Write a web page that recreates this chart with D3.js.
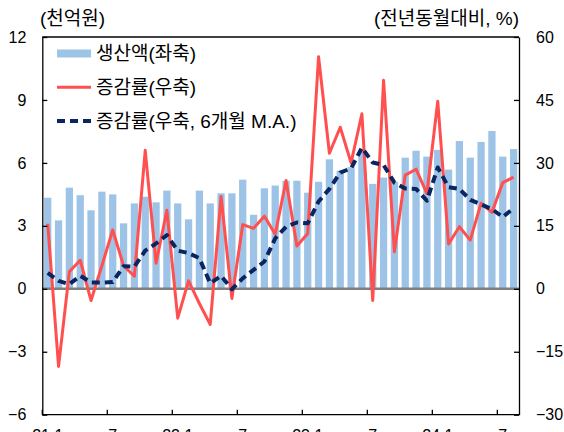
<!DOCTYPE html>
<html>
<head>
  <meta charset="utf-8" />
  <title>생산액 및 증감률</title>
  <script src="https://d3js.org/d3.v7.min.js"></script>
  <style>
    body { margin: 0; background: #fff; }
    svg text { font-family: "Liberation Sans", Arial, "Noto Sans CJK KR", sans-serif; fill: #000; }
  </style>
</head>
<body>
<div id="chart"></div>
<script>
  // monthly categories, 2021.1 ~ 2024.8
  const months = [
    "21.1","21.2","21.3","21.4","21.5","21.6","21.7","21.8","21.9","21.10","21.11","21.12",
    "22.1","22.2","22.3","22.4","22.5","22.6","22.7","22.8","22.9","22.10","22.11","22.12",
    "23.1","23.2","23.3","23.4","23.5","23.6","23.7","23.8","23.9","23.10","23.11","23.12",
    "24.1","24.2","24.3","24.4","24.5","24.6","24.7","24.8"
  ];

  // 생산액 (천억원, 좌축)
  const output = [
    4.34, 3.26, 4.82, 4.46, 3.74, 4.63, 4.50, 3.12, 4.07, 4.39, 4.12, 4.68,
    4.07, 3.31, 4.68, 4.07, 4.55, 4.55, 5.20, 3.53, 4.79, 4.92, 5.15, 5.15,
    4.58, 5.10, 6.17, 5.63, 5.80, 6.60, 5.00, 5.30, 5.10, 6.25, 6.58, 6.30,
    6.62, 5.68, 7.04, 6.25, 7.00, 7.52, 6.30, 6.66
  ];

  // 증감률 (전년동월대비 %, 우축)
  const growth = [
    15.5, -18.5, 4.1, 6.8, -2.8, 5.5, 14.0, 5.5, 3.0, 33.0, 6.1, 18.7,
    -7.0, 1.9, -3.5, -8.5, 22.0, -2.3, 15.3, 14.4, 17.3, 13.0, 25.8, 10.2,
    13.2, 55.3, 32.3, 38.5, 30.0, 41.7, -2.8, 49.7, 8.8, 27.1, 28.5, 22.7,
    44.7, 10.7, 14.8, 11.6, 20.4, 18.2, 25.3, 26.6
  ];

  // 증감률 6개월 이동평균 (%, 우축)
  const growthMA = [
    3.8, 1.9, 1.1, 3.1, 1.5, 1.5, 1.6, 5.4, 5.3, 9.1, 10.8, 12.8,
    9.1, 8.5, 7.3, 1.3, 3.1, -0.1, 2.5, 4.5, 6.5, 12.0, 14.8, 15.8,
    15.6, 20.8, 23.8, 27.7, 28.7, 33.6, 30.1, 29.5, 25.3, 23.9, 23.8, 21.0,
    28.9, 24.2, 23.8, 21.2, 20.1, 19.0, 17.1, 19.2
  ];

  const leftTicks = [-6, -3, 0, 3, 6, 9, 12];
  const rightTicks = [-30, -15, 0, 15, 30, 45, 60];
  const xTickMonths = ["21.1","21.7","22.1","22.7","23.1","23.7","24.1","24.7"];
  const xTickLabels = ["21.1","7","22.1","7","23.1","7","24.1","7"];

  const legendItems = [
    { label: "생산액(좌축)", type: "bar" },
    { label: "증감률(우축)", type: "line" },
    { label: "증감률(우축, 6개월 M.A.)", type: "dash" }
  ];

  const W = 564, H = 432;
  const plot = { left: 42.3, right: 519, top: 37, bottom: 414.7 };

  const barColor = "#9dc3e6";
  const redColor = "#ff4f4f";
  const navyColor = "#0b2560";

  const svg = d3.select("#chart").append("svg")
    .attr("width", W).attr("height", H);

  const x = d3.scaleBand()
    .domain(months)
    .range([plot.left, plot.right])
    .paddingInner(0.33)
    .paddingOuter(0.165);
  const step = x.step();
  const xc = m => x(m) + x.bandwidth() / 2;
  const xEdge = m => xc(m) - step / 2;

  const yL = d3.scaleLinear().domain([-6, 12]).range([plot.bottom, plot.top]);
  const yR = d3.scaleLinear().domain([-30, 60]).range([plot.bottom, plot.top]);

  // bars
  svg.append("g").selectAll("rect")
    .data(output)
    .join("rect")
    .attr("x", (d, i) => x(months[i]))
    .attr("width", x.bandwidth())
    .attr("y", d => yL(Math.max(d, 0)))
    .attr("height", d => Math.abs(yL(d) - yL(0)))
    .attr("fill", barColor);

  // zero line
  svg.append("line")
    .attr("x1", plot.left).attr("x2", plot.right)
    .attr("y1", yL(0)).attr("y2", yL(0))
    .attr("stroke", "#7f7f7f").attr("stroke-width", 2.5);

  // growth line
  const line = d3.line()
    .x((d, i) => xc(months[i]))
    .y(d => yR(d));

  svg.append("path")
    .datum(growth)
    .attr("d", line)
    .attr("fill", "none")
    .attr("stroke", redColor)
    .attr("stroke-width", 3)
    .attr("stroke-linejoin", "round");

  // 6-month MA dashed
  svg.append("path")
    .datum(growthMA)
    .attr("d", line)
    .attr("fill", "none")
    .attr("stroke", navyColor)
    .attr("stroke-width", 4)
    .attr("stroke-dasharray", "8,5")
    .attr("stroke-linejoin", "round");

  // axes
  const axL = svg.append("g")
    .attr("transform", `translate(${plot.left},0)`)
    .call(d3.axisLeft(yL).tickValues(leftTicks).tickSize(-5).tickSizeOuter(0).tickPadding(16));
  const axR = svg.append("g")
    .attr("transform", `translate(${plot.right},0)`)
    .call(d3.axisRight(yR).tickValues(rightTicks).tickSize(-5).tickSizeOuter(0).tickPadding(17));
  [axL, axR].forEach(g => {
    g.selectAll("text").attr("font-size", 16).attr("font-family", "Liberation Sans, Arial, sans-serif");
    g.selectAll("line, path").attr("stroke", "#000").attr("stroke-width", 1.3);
  });

  // top & bottom border
  svg.append("line")
    .attr("x1", plot.left).attr("x2", plot.right)
    .attr("y1", plot.top).attr("y2", plot.top)
    .attr("stroke", "#000").attr("stroke-width", 1.3);
  svg.append("line")
    .attr("x1", plot.left).attr("x2", plot.right)
    .attr("y1", plot.bottom).attr("y2", plot.bottom)
    .attr("stroke", "#000").attr("stroke-width", 1.3);

  // x ticks at month boundaries, labels centred on the month (cut by the frame edge, as in the original)
  svg.append("g").selectAll("line")
    .data(xTickMonths)
    .join("line")
    .attr("x1", d => xEdge(d)).attr("x2", d => xEdge(d))
    .attr("y1", plot.bottom).attr("y2", plot.bottom - 5)
    .attr("stroke", "#000").attr("stroke-width", 1.3);

  svg.append("g").selectAll("text")
    .data(xTickMonths)
    .join("text")
    .attr("x", d => xc(d))
    .attr("y", plot.bottom + 26)
    .attr("text-anchor", "middle")
    .attr("font-size", 16)
    .text((d, i) => xTickLabels[i]);

  // axis unit titles
  svg.append("text")
    .attr("x", 40).attr("y", 25)
    .attr("font-size", 19)
    .text("(천억원)");
  svg.append("text")
    .attr("x", plot.right).attr("y", 25)
    .attr("text-anchor", "end")
    .attr("font-size", 19)
    .text("(전년동월대비, %)");

  // legend
  const lg = svg.append("g").attr("transform", "translate(57,53.5)");
  legendItems.forEach((item, i) => {
    const g = lg.append("g").attr("transform", `translate(0,${i * 33.8})`);
    if (item.type === "bar") {
      g.append("rect").attr("x", 0).attr("y", -4).attr("width", 34).attr("height", 8).attr("fill", barColor);
    } else if (item.type === "line") {
      g.append("line").attr("x1", 0).attr("x2", 34).attr("y1", 0).attr("y2", 0)
        .attr("stroke", redColor).attr("stroke-width", 3);
    } else {
      g.append("line").attr("x1", 0).attr("x2", 34).attr("y1", 0).attr("y2", 0)
        .attr("stroke", navyColor).attr("stroke-width", 4).attr("stroke-dasharray", "8,5");
    }
    g.append("text")
      .attr("x", 39).attr("y", 0)
      .attr("dy", "0.36em")
      .attr("font-size", 19)
      .text(item.label);
  });
</script>
</body>
</html>
